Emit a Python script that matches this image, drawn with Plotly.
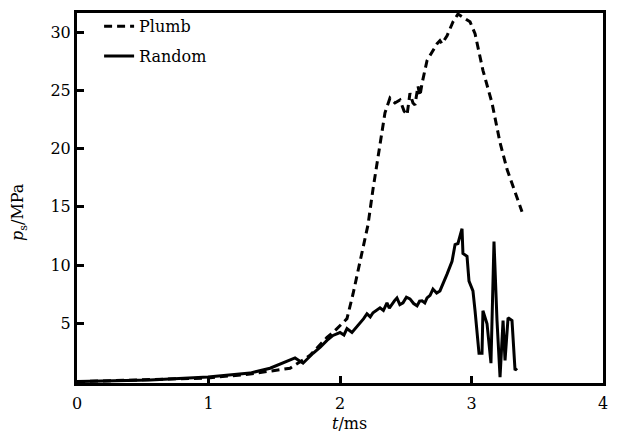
import plotly.graph_objects as go

# Plumb (dashed) series
plumb_t = [0.00, 0.555, 0.996, 1.316, 1.521, 1.620, 1.772, 1.901, 1.947, 2.053, 2.099,
           2.160, 2.213, 2.251, 2.304, 2.342, 2.380, 2.418, 2.456, 2.487, 2.510, 2.532,
           2.555, 2.570, 2.593, 2.608, 2.624, 2.662, 2.738, 2.760, 2.776, 2.814, 2.859,
           2.897, 2.989, 3.027, 3.087, 3.156, 3.217, 3.270, 3.384]
plumb_p = [0.00, 0.15, 0.31, 0.65, 0.98, 1.15, 2.25, 3.79, 4.21, 5.40, 7.52,
           10.75, 13.46, 16.52, 20.51, 23.06, 24.33, 23.91, 24.16, 23.23, 22.89, 24.75,
           23.91, 23.74, 25.35, 24.50, 25.60, 27.55, 28.99, 29.25, 28.99, 29.68, 30.87,
           31.54, 30.87, 29.85, 26.71, 23.91, 20.51, 18.22, 14.57]

# Random (solid) series
random_t = [0.00, 0.555, 0.996, 1.316, 1.468, 1.620, 1.658, 1.719, 1.795, 1.850, 1.901, 1.947,
            2.000, 2.030, 2.053, 2.091, 2.120, 2.152, 2.180, 2.205, 2.230, 2.251, 2.280, 2.304,
            2.330, 2.357, 2.375, 2.395, 2.415, 2.433, 2.455, 2.479, 2.505, 2.532, 2.560, 2.586,
            2.605, 2.624, 2.645, 2.662, 2.685, 2.707, 2.735, 2.760, 2.790, 2.814, 2.852, 2.875,
            2.897, 2.928, 2.935, 2.966, 2.981, 3.011, 3.027, 3.057, 3.080, 3.087, 3.118, 3.148,
            3.171, 3.194, 3.217, 3.240, 3.255, 3.278, 3.308, 3.331, 3.346]
random_p = [0.00, 0.14, 0.39, 0.73, 1.15, 1.82, 2.03, 1.58, 2.43, 2.95, 3.53, 3.96,
            4.21, 4.00, 4.55, 4.21, 4.60, 4.97, 5.40, 5.82, 5.55, 5.91, 6.10, 6.33,
            6.10, 6.76, 6.30, 6.67, 6.95, 7.18, 6.60, 6.76, 7.25, 7.10, 6.70, 6.50,
            6.90, 6.93, 6.75, 7.18, 7.40, 7.94, 7.60, 7.78, 8.50, 9.22, 10.32, 11.76,
            11.85, 13.12, 11.00, 10.75, 8.62, 7.78, 6.08, 2.43, 2.43, 6.08, 4.97, 1.58,
            12.02, 5.23, 0.39, 5.23, 1.82, 5.48, 5.23, 0.98, 1.15]

x_ticks = [0, 1, 2, 3, 4]
y_ticks = [5, 10, 15, 20, 25, 30]

FONT = "DejaVu Serif"
FS = 16

fig = go.Figure()
fig.add_trace(go.Scatter(x=plumb_t, y=plumb_p, mode="lines", name="Plumb",
                         legendgroup="a",
                         line=dict(color="black", width=3, dash="8px,5px")))
fig.add_trace(go.Scatter(x=random_t, y=random_p, mode="lines", name="Random",
                         legendgroup="b",
                         line=dict(color="black", width=3)))

axis_common = dict(showline=True, linecolor="black", linewidth=3, mirror=True,
                   ticks="inside", ticklen=7, tickwidth=3, tickcolor="black",
                   showgrid=False, zeroline=False,
                   tickfont=dict(family=FONT, size=FS, color="black"))

fig.update_xaxes(range=[0, 4], tickvals=x_ticks, ticktext=[str(v) for v in x_ticks],
                 ticklabelstandoff=4, **axis_common)
fig.update_yaxes(range=[-0.12, 31.63], tickvals=y_ticks, ticktext=[str(v) for v in y_ticks],
                 **axis_common)

fig.add_annotation(text="<i>p</i><sub>s</sub>/MPa", xref="paper", yref="paper",
                   x=-0.110, y=0.4626, xanchor="center", yanchor="middle",
                   textangle=-90, showarrow=False,
                   font=dict(family=FONT, size=FS, color="black"))
fig.add_annotation(text="<i>t</i>/ms", xref="paper", yref="paper",
                   x=0.519, y=-0.1096, xanchor="center", yanchor="middle",
                   showarrow=False,
                   font=dict(family=FONT, size=FS, color="black"))

fig.update_layout(
    width=621, height=439,
    margin=dict(l=69, r=26, t=1, b=64),
    paper_bgcolor="white", plot_bgcolor="white",
    font=dict(family=FONT, size=FS, color="black"),
    legend=dict(x=0.042, y=1.01, xanchor="left", yanchor="top",
                bgcolor="rgba(0,0,0,0)", font=dict(family=FONT, size=FS, color="black"),
                traceorder="grouped", tracegroupgap=6, itemwidth=30),
    showlegend=True,
)

fig.write_html("out.html")
